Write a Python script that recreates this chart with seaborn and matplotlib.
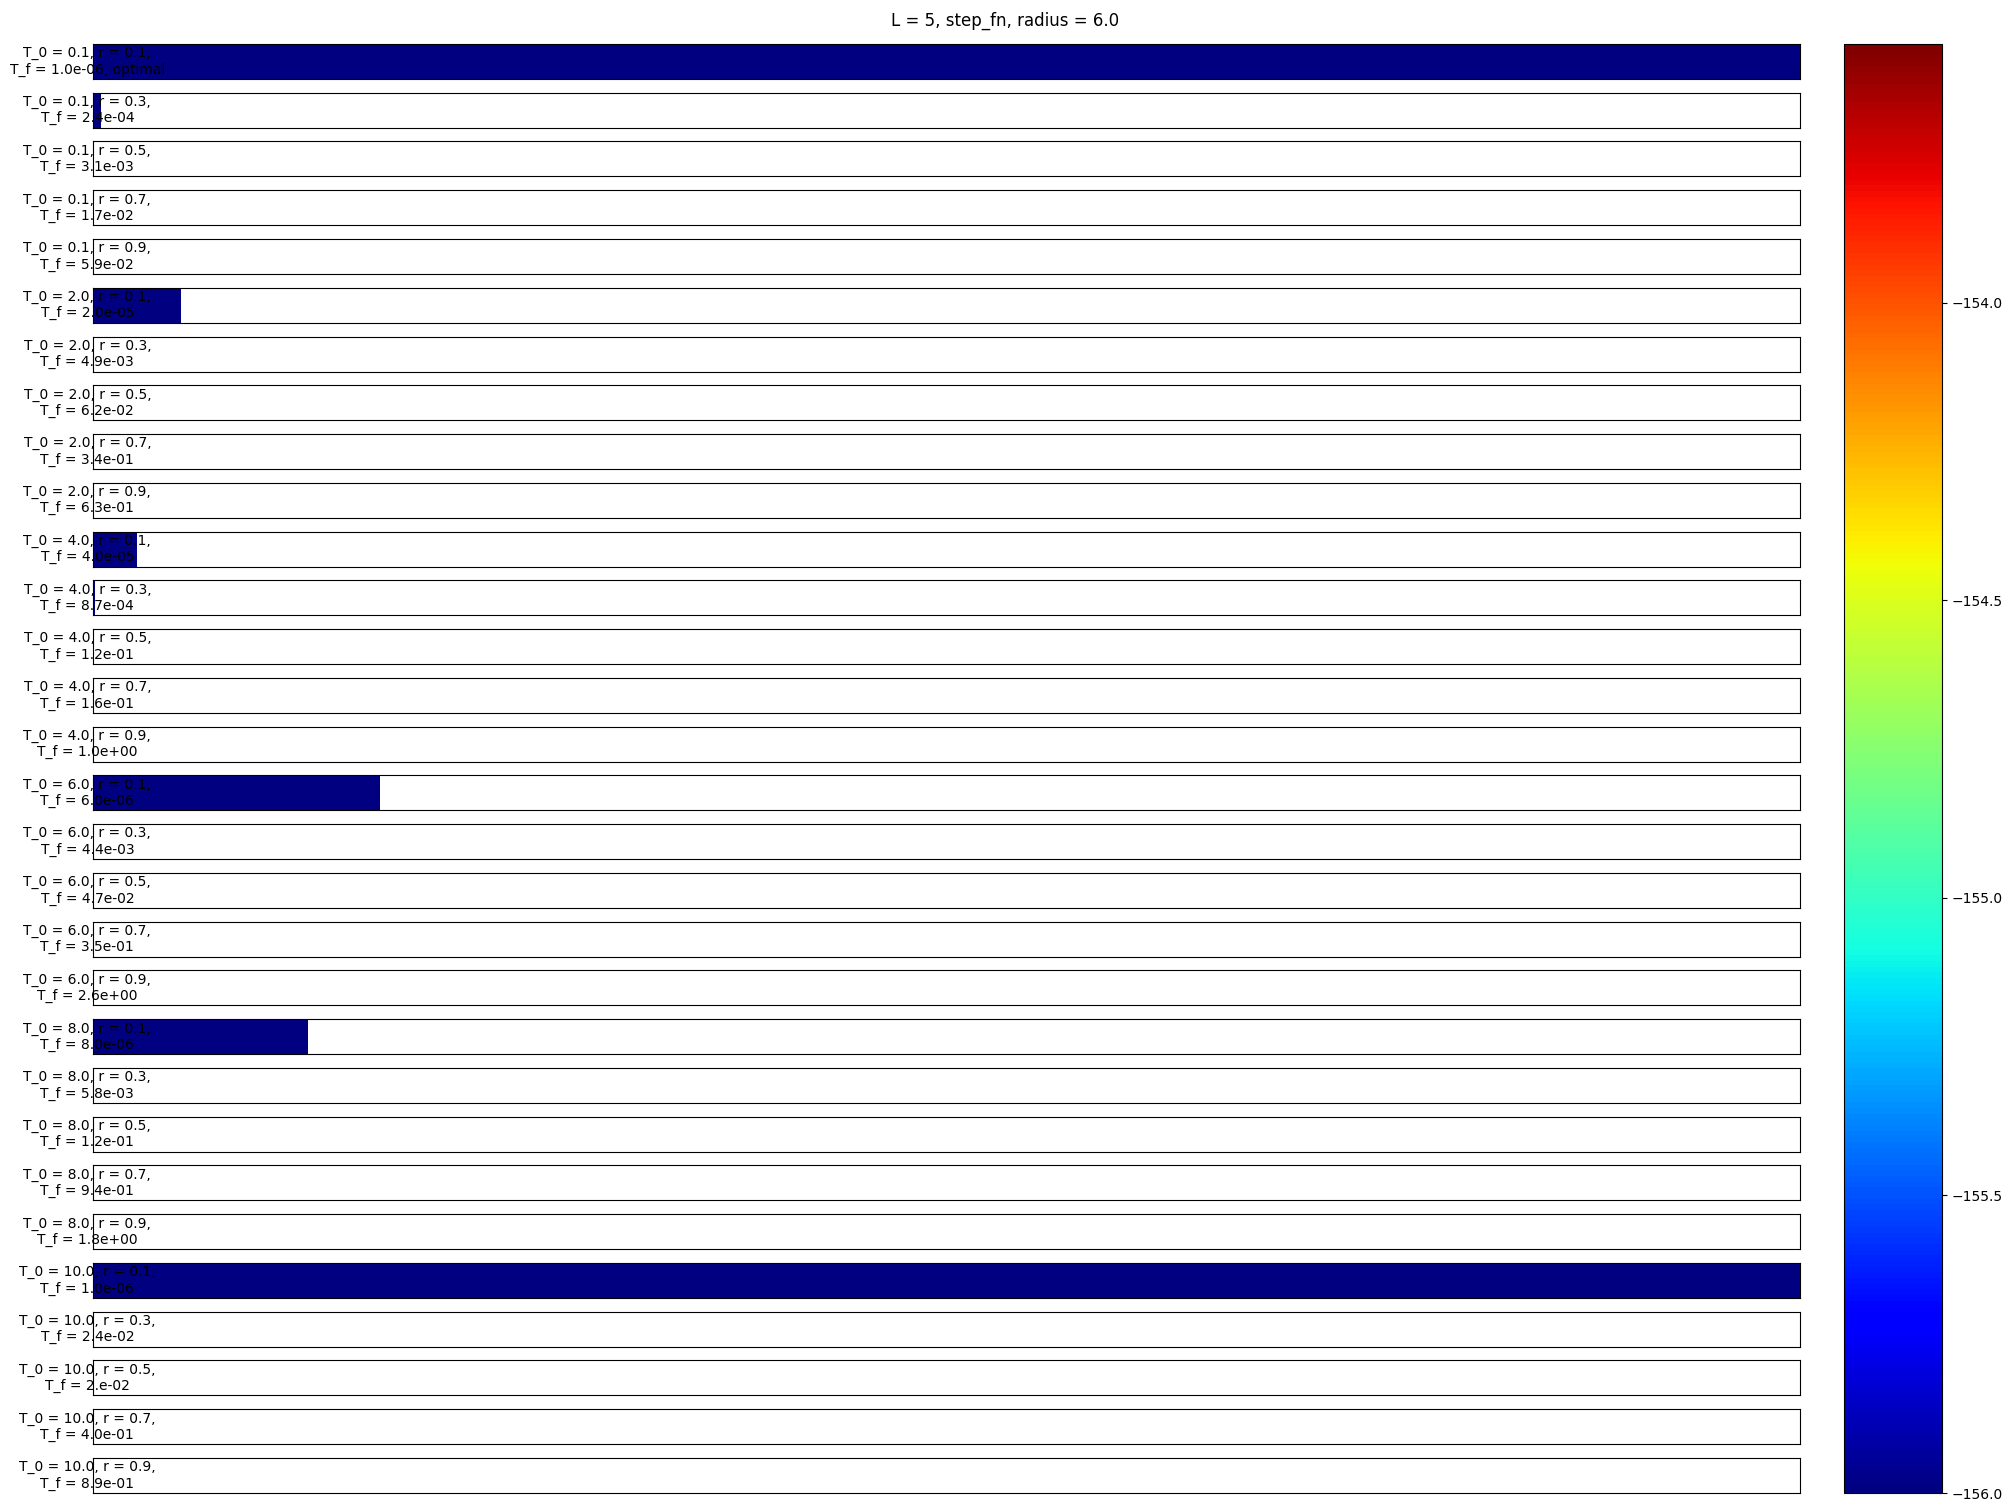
import numpy as np
import pandas as pd
import seaborn as sns
import matplotlib.pyplot as plt


# one row per (T_0, r) schedule
t0_values = [0.1] * 5 + [2.0] * 5 + [4.0] * 5 + [6.0] * 5 + [8.0] * 5 + [10.0] * 5
r_values = [0.1, 0.3, 0.5, 0.7, 0.9] * 6
tf_labels = [
    "1.0e-06", "2.4e-04", "3.1e-03", "1.7e-02", "5.9e-02",
    "2.0e-05", "4.9e-03", "6.2e-02", "3.4e-01", "6.3e-01",
    "4.0e-05", "8.7e-04", "1.2e-01", "1.6e-01", "1.0e+00",
    "6.0e-06", "4.4e-03", "4.7e-02", "3.5e-01", "2.6e+00",
    "8.0e-06", "5.8e-03", "1.2e-01", "9.4e-01", "1.8e+00",
    "1.0e-06", "2.4e-02", "2.e-02", "4.0e-01", "8.9e-01",
]
optimal = [True] + [False] * 29

# number of steps that reached the best energy, out of n_steps
n_steps = 660
hit_steps = [
    660, 3, 0, 0, 0,
    34, 0, 0, 0, 0,
    17, 1, 0, 0, 0,
    111, 0, 0, 0, 0,
    83, 0, 0, 0, 0,
    660, 0, 0, 0, 0,
]
best_energy = [-156.0] * 30

vmin, vmax = -156.0, -153.565

fig = plt.figure(figsize=(20.11, 15.11), dpi=100)
n_rows = len(t0_values)
gs = fig.add_gridspec(n_rows, 1, left=0.0462, right=0.895,
                      top=0.9709, bottom=0.0119, hspace=0.393)
cax = fig.add_axes([0.917, 0.0119, 0.0487, 0.9709 - 0.0119])

for i in range(n_rows):
    ax = fig.add_subplot(gs[i, 0])
    row = np.full((1, n_steps), np.nan)
    row[0, :hit_steps[i]] = best_energy[i]
    df = pd.DataFrame(row)
    sns.heatmap(df, ax=ax, cmap="jet", vmin=vmin, vmax=vmax,
                xticklabels=False, yticklabels=False,
                cbar=(i == 0), cbar_ax=cax if i == 0 else None)
    for spine in ax.spines.values():
        spine.set_visible(True)
        spine.set_linewidth(0.8)
        spine.set_color("black")
    label = f"T_0 = {t0_values[i]}, r = {r_values[i]},\nT_f = {tf_labels[i]}"
    if optimal[i]:
        label += ", optimal"
    ax.set_ylabel(label, rotation=0, ha="center", va="center", fontsize=10)
    if i == 0:
        cb = ax.collections[0].colorbar
        cb.outline.set_linewidth(0.8)
        cb.outline.set_edgecolor("black")
        cb.ax.tick_params(labelsize=10)

fig.suptitle("L = 5, step_fn, radius = 6.0", fontsize=12, y=0.992, va="top")

fig.savefig("out.png", dpi=100)
